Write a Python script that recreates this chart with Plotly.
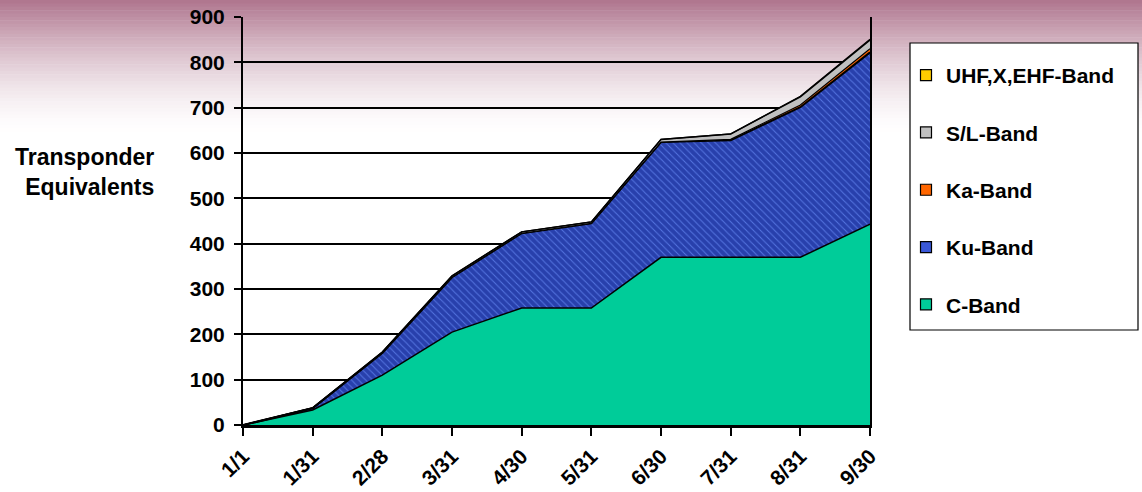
import plotly.graph_objects as go

# ---- data ----
dates = ["1/1", "1/31", "2/28", "3/31", "4/30", "5/31", "6/30", "7/31", "8/31", "9/30"]
c_band = [0, 33, 110, 205, 258, 258, 370, 370, 370, 443]
ku_band = [0, 4, 49, 121, 165, 187, 254, 258, 331, 379]
ka_band = [0, 0, 0, 0, 0, 0, 0, 2, 5, 8]
sl_band = [0, 1, 2, 3, 3, 3, 6, 12, 18, 19]
uhf_band = [0, 0, 0, 0, 0, 0, 0, 0, 1, 2]
y_ticks = [0, 100, 200, 300, 400, 500, 600, 700, 800, 900]

FONT = "Liberation Sans, Arial, sans-serif"
W, H = 1142, 492
L, R, T, B = 243, 272, 17, 67
PW, PH = W - L - R, H - T - B


def px_x(p):
    return (p - L) / PW


def px_y(p):
    return (H - B - p) / PH


x = list(range(len(dates)))
fig = go.Figure()

series = [
    ("C-Band", c_band, "#00cc99", None, 1.5, 5),
    ("Ku-Band", ku_band, "#2840ac",
     dict(shape="\\", bgcolor="#2840ac", fgcolor="#5474e0", size=5, solidity=0.2, fillmode="replace"),
     2, 4),
    ("Ka-Band", ka_band, "#ff6600", None, 1.2, 3),
    ("S/L-Band", sl_band, "#c0c0c0", None, 1.5, 2),
    ("UHF,X,EHF-Band", uhf_band, "#ffcc00", None, 1.2, 1),
]
for name, vals, col, patt, lw, rank in series:
    kw = dict(fillcolor=col)
    if patt:
        kw["fillpattern"] = patt
    fig.add_trace(go.Scatter(
        x=x, y=vals, name=name, mode="lines", stackgroup="one",
        line=dict(color="black", width=lw), showlegend=False,
        hoverinfo="x+y+name", **kw))
    # legend proxy: small square swatch
    fig.add_trace(go.Scatter(
        x=[None], y=[None], name=name, mode="markers", legendgroup=name, legendrank=rank,
        marker=dict(symbol="square", size=11, color="#3a58d8" if patt else col,
                    line=dict(color="black", width=1.2)),
        showlegend=True, hoverinfo="skip"))

# background gradient strips (mauve at top fading to white)
shapes = []
top_rgb = (174, 116, 141)
n = 40
span = 135
for i in range(n):
    p0 = i * span / n
    p1 = (i + 1) * span / n + 0.5
    t = (i + 0.5) / n
    k = (1 - t) ** 1.6
    c = tuple(int(round(255 - (255 - v) * k)) for v in top_rgb)
    shapes.append(dict(type="rect", xref="paper", yref="paper",
                       x0=px_x(0), x1=px_x(W), y0=px_y(p1), y1=px_y(p0),
                       fillcolor="rgb(%d,%d,%d)" % c, line=dict(width=0), layer="below"))
# legend box
shapes.append(dict(type="rect", xref="paper", yref="paper",
                   x0=px_x(910), x1=px_x(1138), y0=px_y(330), y1=px_y(43),
                   fillcolor="white", line=dict(color="black", width=1.2), layer="below"))

fig.update_layout(
    width=W, height=H,
    margin=dict(l=L, r=R, t=T, b=B, autoexpand=False),
    paper_bgcolor="white",
    plot_bgcolor="rgba(0,0,0,0)",
    shapes=shapes,
    font=dict(family=FONT, color="black", size=16),
    showlegend=True,
    legend=dict(
        x=px_x(906), y=px_y(55), xanchor="left", yanchor="top",
        bgcolor="rgba(0,0,0,0)", borderwidth=0,
        traceorder="grouped", tracegroupgap=27,
        font=dict(family=FONT, size=21, color="black", weight="bold"),
    ),
    xaxis=dict(
        range=[0, len(dates) - 1], tickvals=x, ticktext=dates, tickangle=-45,
        showgrid=False, zeroline=False, showline=True, linecolor="black", linewidth=2.5,
        ticks="outside", ticklen=8, tickwidth=1.5, tickcolor="black",
        tickfont=dict(family=FONT, size=21, color="black", weight="bold"),
    ),
    yaxis=dict(
        range=[0, 900], tickvals=y_ticks,
        showgrid=True, gridcolor="black", gridwidth=1.5, zeroline=False,
        showline=True, linecolor="black", linewidth=2, mirror=True,
        ticks="outside", ticklen=7, tickwidth=1.5, tickcolor="black",
        ticklabelstandoff=5,
        tickfont=dict(family=FONT, size=21, color="black", weight="bold"),
    ),
    annotations=[dict(
        text="Transponder<br>Equivalents", xref="paper", yref="paper",
        x=px_x(84), y=px_y(172), xanchor="center", yanchor="middle", showarrow=False,
        align="right", font=dict(family=FONT, size=23, color="black", weight="bold"),
    )],
)

fig.write_html(
    "out.html",
    config={"displayModeBar": False},
    post_script="document.body.style.margin='0';document.body.style.overflow='hidden';",
)
